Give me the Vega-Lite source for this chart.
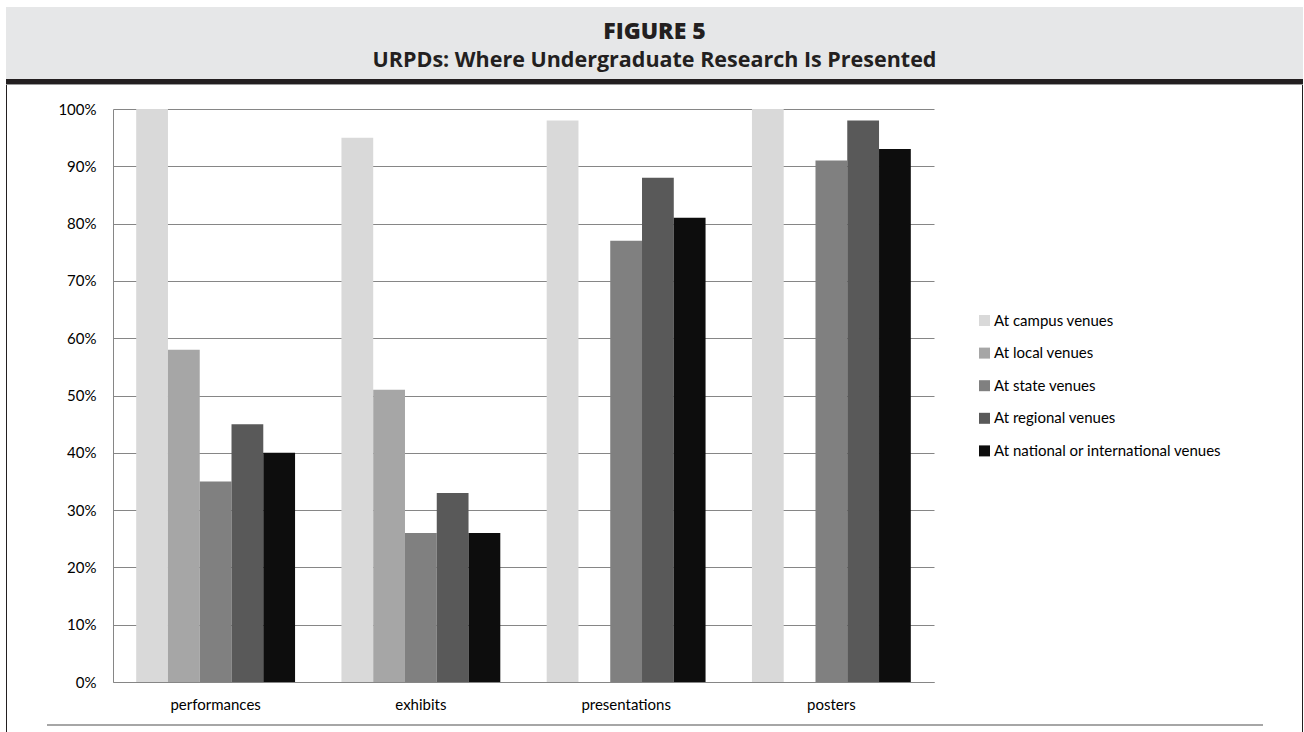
{
  "$schema": "https://vega.github.io/schema/vega-lite/v6.json",
  "padding": {"left": 6, "top": 7, "right": 0, "bottom": 0},
  "background": "white",
  "config": {"view": {"stroke": null}, "concat": {"spacing": 0}},
  "spacing": 0,
  "vconcat": [
    {
      "width": 1297,
      "height": 72,
      "view": {"fill": "#e6e7e8", "stroke": null},
      "data": {"values": [
        {"line": "a", "text": "FIGURE 5"},
        {"line": "b", "text": "URPDs: Where Undergraduate Research Is Presented"}
      ]},
      "encoding": {
        "y": {"field": "line", "type": "ordinal", "scale": {"type": "point", "padding": 0, "domain": ["a", "b"], "range": [32, 60]}, "axis": null},
        "text": {"field": "text", "type": "nominal"}
      },
      "layer": [
        {"transform": [{"filter": "datum.line == 'a'"}], "mark": {"type": "text", "font": "Open Sans", "fontWeight": 800, "fontSize": 23, "color": "#231f20", "baseline": "alphabetic"}},
        {"transform": [{"filter": "datum.line == 'b'"}], "mark": {"type": "text", "font": "Open Sans", "fontWeight": 700, "fontSize": 21.5, "color": "#231f20", "baseline": "alphabetic"}}
      ]
    },
    {"width": 1297, "height": 5, "view": {"fill": "#231f20", "stroke": null}, "data": {"values": []}, "mark": "rect"},
    {"width": 1297, "height": 1, "view": {"fill": "#9a9a9a", "stroke": null}, "data": {"values": []}, "mark": "rect"},
    {
      "spacing": 0,
      "hconcat": [
        {"width": 1, "height": 647, "view": {"fill": "#231f20", "stroke": null}, "data": {"values": []}, "mark": "rect"},
        {
          "spacing": 0,
          "vconcat": [
            {"width": 1295, "height": 17, "data": {"values": []}, "mark": "rect"},
            {
              "spacing": 0,
              "hconcat": [
                {"width": 50, "height": 1, "data": {"values": []}, "mark": "rect"},
                {
                  "width": 821,
                  "height": 573,
                  "view": {"stroke": null},
                  "data": {"values": [
                    {"type": "performances", "venue": "At campus venues", "pct": 100},
                    {"type": "performances", "venue": "At local venues", "pct": 58},
                    {"type": "performances", "venue": "At state venues", "pct": 35},
                    {"type": "performances", "venue": "At regional venues", "pct": 45},
                    {"type": "performances", "venue": "At national  or international venues", "pct": 40},
                    {"type": "exhibits", "venue": "At campus venues", "pct": 95},
                    {"type": "exhibits", "venue": "At local venues", "pct": 51},
                    {"type": "exhibits", "venue": "At state venues", "pct": 26},
                    {"type": "exhibits", "venue": "At regional venues", "pct": 33},
                    {"type": "exhibits", "venue": "At national  or international venues", "pct": 26},
                    {"type": "presentations", "venue": "At campus venues", "pct": 98},
                    {"type": "presentations", "venue": "At state venues", "pct": 77},
                    {"type": "presentations", "venue": "At regional venues", "pct": 88},
                    {"type": "presentations", "venue": "At national  or international venues", "pct": 81},
                    {"type": "posters", "venue": "At campus venues", "pct": 100},
                    {"type": "posters", "venue": "At state venues", "pct": 91},
                    {"type": "posters", "venue": "At regional venues", "pct": 98},
                    {"type": "posters", "venue": "At national  or international venues", "pct": 93}
                  ]},
                  "mark": {"type": "bar"},
                  "encoding": {
                    "x": {
                      "field": "type", "type": "nominal",
                      "sort": ["performances", "exhibits", "presentations", "posters"],
                      "scale": {"paddingInner": 0.226, "paddingOuter": 0.113},
                      "axis": {"title": null, "labelAngle": 0, "ticks": false, "labelPadding": 15, "domainColor": "#868686", "domainWidth": 1, "labelFont": "Lato", "labelFontSize": 15, "labelColor": "#000000"}
                    },
                    "xOffset": {
                      "field": "venue", "type": "nominal",
                      "sort": ["At campus venues", "At local venues", "At state venues", "At regional venues", "At national  or international venues"],
                      "scale": {"domain": ["At campus venues", "At local venues", "At state venues", "At regional venues", "At national  or international venues"]}
                    },
                    "y": {
                      "field": "pct", "type": "quantitative",
                      "scale": {"domain": [0, 100]},
                      "axis": {"title": null, "values": [0, 10, 20, 30, 40, 50, 60, 70, 80, 90, 100], "labelExpr": "datum.value + '%'", "ticks": false, "labelPadding": 17, "grid": true, "gridColor": "#868686", "gridWidth": 1, "domainColor": "#868686", "labelFont": "Lato", "labelFontSize": 15, "labelColor": "#000000"}
                    },
                    "color": {
                      "field": "venue", "type": "nominal",
                      "scale": {
                        "domain": ["At campus venues", "At local venues", "At state venues", "At regional venues", "At national  or international venues"],
                        "range": ["#d9d9d9", "#a6a6a6", "#808080", "#595959", "#0d0d0d"]
                      },
                      "legend": {"title": null, "orient": "none", "legendX": 971, "legendY": 306, "padding": 0, "symbolType": "square", "symbolSize": 121, "symbolStrokeWidth": 0, "labelFont": "Lato", "labelFontSize": 15, "labelColor": "#000000", "labelOffset": 2, "rowPadding": 16.6, "labelLimit": 400}
                    }
                  }
                }
              ]
            },
            {"width": 1, "height": 12, "data": {"values": []}, "mark": "rect"},
            {
              "spacing": 0,
              "hconcat": [
                {"width": 40, "height": 2, "data": {"values": []}, "mark": "rect"},
                {"width": 1216, "height": 2, "view": {"fill": "#a6a6a6", "stroke": null}, "data": {"values": []}, "mark": "rect"}
              ]
            }
          ]
        },
        {"width": 1, "height": 647, "view": {"fill": "#231f20", "stroke": null}, "data": {"values": []}, "mark": "rect"}
      ]
    }
  ]
}
